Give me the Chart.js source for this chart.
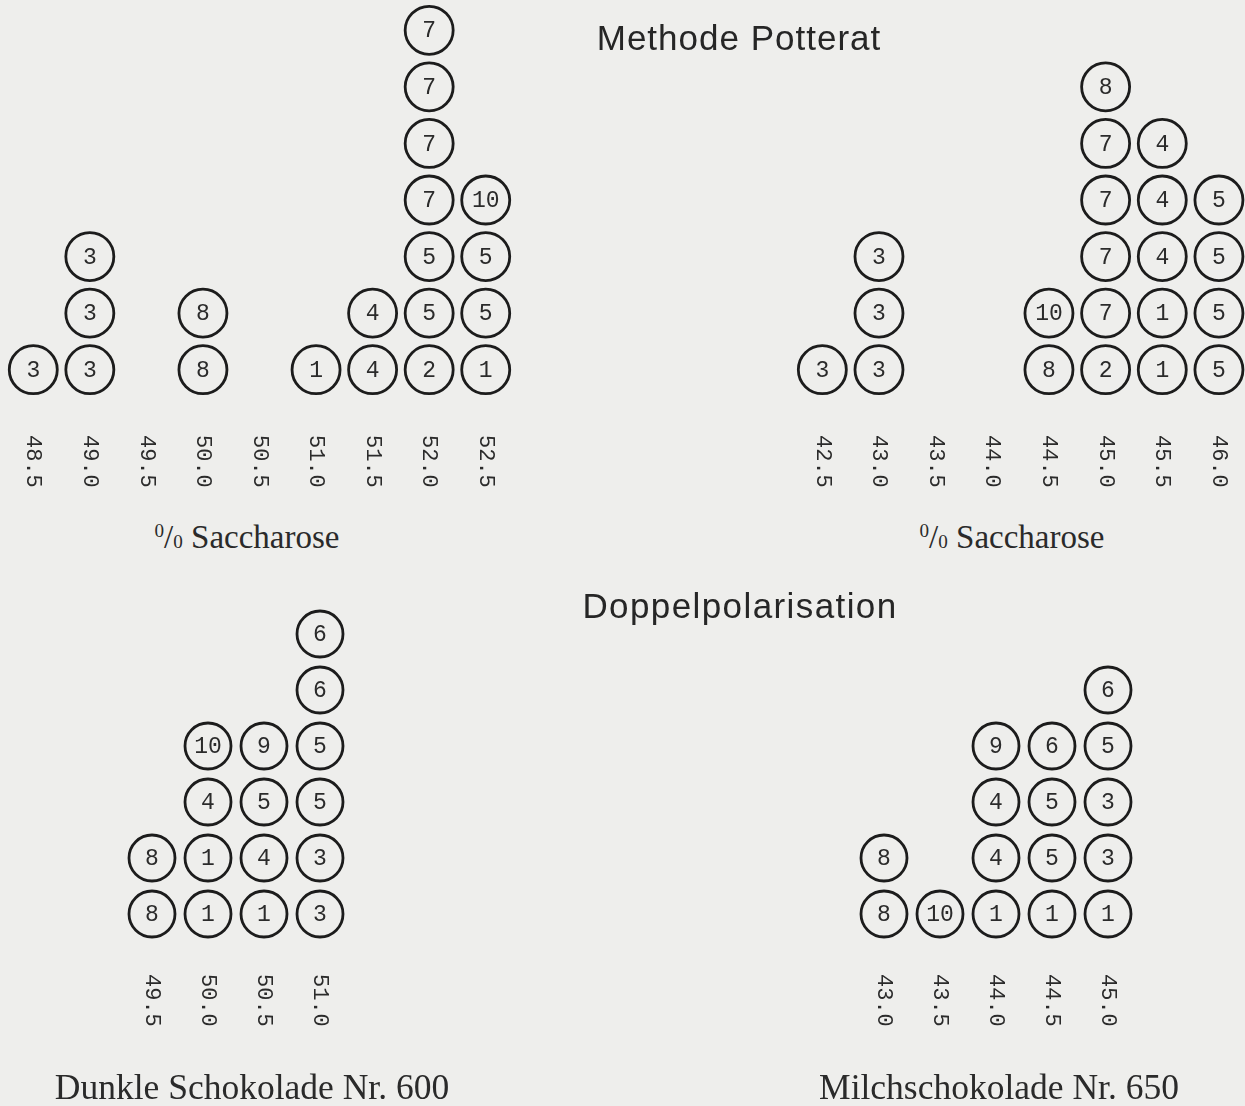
<!DOCTYPE html>
<html lang="de">
<head>
<meta charset="UTF-8">
<title>Methode Potterat / Doppelpolarisation</title>
<style>
    body {
        margin: 0;
        width: 1245px;
        height: 1106px;
        background: #eeeeec;
        position: relative;
        overflow: hidden;
    }
    canvas {
        position: absolute;
    }
    .title {
        position: absolute;
        transform: translate(-50%, -50%);
        font-family: "Liberation Sans", Arial, sans-serif;
        font-size: 35px;
        color: #262626;
        white-space: nowrap;
    }
    .label {
        position: absolute;
        transform: translate(-50%, -50%);
        font-family: "Liberation Serif", "DejaVu Serif", serif;
        color: #2a2a2a;
        white-space: nowrap;
    }
    .pc sup, .pc sub {
        font-size: 58%;
        line-height: 0;
    }
    .pc sup { vertical-align: 0.55em; }
    .pc sub { vertical-align: -0.05em; }
</style>
</head>
<body>
<canvas id="potteratLeft" width="509" height="500" style="left:5px; top:2px"></canvas>
<canvas id="potteratRight" width="451" height="500" style="left:794px; top:2px"></canvas>
<canvas id="doppelLeft" width="224" height="480" style="left:124px; top:606px"></canvas>
<canvas id="doppelRight" width="280" height="480" style="left:856px; top:606px"></canvas>

<div class="title" style="left:739px; top:38px; letter-spacing:1px">Methode Potterat</div>
<div class="title" style="left:740px; top:606px; letter-spacing:1.4px">Doppelpolarisation</div>
<div class="label pc" style="left:247px; top:537px; font-size:33px"><sup>0</sup>/<sub>0</sub> Saccharose</div>
<div class="label pc" style="left:1012px; top:537px; font-size:33px"><sup>0</sup>/<sub>0</sub> Saccharose</div>
<div class="label" style="left:252px; top:1087px; font-size:35.5px">Dunkle Schokolade Nr. 600</div>
<div class="label" style="left:999px; top:1087px; font-size:35.5px">Milchschokolade Nr. 650</div>

<script src="https://cdn.jsdelivr.net/npm/chart.js"></script>
<script>
    // Methode Potterat, Dunkle Schokolade Nr. 600 (stack from bottom to top)
    const potteratLeftX = [48.5, 49.0, 50.0, 51.0, 51.5, 52.0, 52.5];
    const potteratLeftStacks = [[3], [3, 3, 3], [8, 8], [1], [4, 4], [2, 5, 5, 7, 7, 7, 7], [1, 5, 5, 10]];
    const potteratLeftTicks = ['48.5', '49.0', '49.5', '50.0', '50.5', '51.0', '51.5', '52.0', '52.5'];

    // Methode Potterat, Milchschokolade Nr. 650
    const potteratRightX = [42.5, 43.0, 44.5, 45.0, 45.5, 46.0];
    const potteratRightStacks = [[3], [3, 3, 3], [8, 10], [2, 7, 7, 7, 7, 8], [1, 1, 4, 4, 4], [5, 5, 5, 5]];
    const potteratRightTicks = ['42.5', '43.0', '43.5', '44.0', '44.5', '45.0', '45.5', '46.0'];

    // Doppelpolarisation, Dunkle Schokolade Nr. 600
    const doppelLeftX = [49.5, 50.0, 50.5, 51.0];
    const doppelLeftStacks = [[8, 8], [1, 1, 4, 10], [1, 4, 5, 9], [3, 3, 5, 5, 6, 6]];
    const doppelLeftTicks = ['49.5', '50.0', '50.5', '51.0'];

    // Doppelpolarisation, Milchschokolade Nr. 650
    const doppelRightX = [43.0, 43.5, 44.0, 44.5, 45.0];
    const doppelRightStacks = [[8, 8], [10], [1, 4, 4, 9], [1, 5, 5, 6], [1, 3, 3, 5, 6]];
    const doppelRightTicks = ['43.0', '43.5', '44.0', '44.5', '45.0'];

    // numbers inside the circles + vertical tick labels under the axis
    const dotLabels = {
        id: 'dotLabels',
        afterDatasetsDraw(chart, args, opts) {
            const ctx = chart.ctx;
            const meta = chart.getDatasetMeta(0);
            const data = chart.data.datasets[0].data;
            ctx.save();
            ctx.fillStyle = '#2b2b2b';
            ctx.font = '23px "Liberation Mono", "DejaVu Sans Mono", monospace';
            ctx.textAlign = 'center';
            ctx.textBaseline = 'middle';
            meta.data.forEach((pt, i) => {
                ctx.fillText(String(data[i].v), pt.x, pt.y + 1);
            });

            const sx = chart.scales.x;
            ctx.font = '22px "Liberation Mono", "DejaVu Sans Mono", monospace';
            ctx.textAlign = 'left';
            opts.ticks.forEach(t => {
                const px = sx.getPixelForValue(parseFloat(t));
                ctx.save();
                ctx.translate(px, chart.chartArea.bottom + opts.offset);
                ctx.rotate(Math.PI / 2);
                ctx.fillText(t, 0, 0);
                ctx.restore();
            });
            ctx.restore();
        }
    };

    function makePanel(id, xs, stacks, ticks, xMin, xMax, yMax, radius, bottom, offset) {
        const points = [];
        xs.forEach((x, i) => {
            stacks[i].forEach((v, j) => points.push({ x: x, y: j + 1, v: v }));
        });
        return new Chart(document.getElementById(id), {
            type: 'scatter',
            data: {
                datasets: [{
                    data: points,
                    pointStyle: 'circle',
                    pointRadius: radius,
                    pointBorderWidth: 2.8,
                    pointBorderColor: '#1c1c1c',
                    pointBackgroundColor: 'rgba(0,0,0,0)',
                    clip: false
                }]
            },
            options: {
                responsive: false,
                animation: false,
                events: [],
                layout: { autoPadding: false, padding: { left: 0, right: 0, top: 0, bottom: bottom } },
                plugins: {
                    legend: { display: false },
                    tooltip: { enabled: false },
                    dotLabels: { ticks: ticks, offset: offset }
                },
                scales: {
                    x: { type: 'linear', display: false, min: xMin, max: xMax },
                    y: { type: 'linear', display: false, min: 0.5, max: yMax }
                }
            },
            plugins: [dotLabels]
        });
    }

    makePanel('potteratLeft', potteratLeftX, potteratLeftStacks, potteratLeftTicks, 48.25, 52.75, 7.5, 24, 104, 37);
    makePanel('potteratRight', potteratRightX, potteratRightStacks, potteratRightTicks, 42.25, 46.23, 7.5, 24, 104, 37);
    makePanel('doppelLeft', doppelLeftX, doppelLeftStacks, doppelLeftTicks, 49.25, 51.25, 6.5, 23, 144, 32);
    makePanel('doppelRight', doppelRightX, doppelRightStacks, doppelRightTicks, 42.75, 45.25, 6.5, 23, 144, 32);
</script>
</body>
</html>
